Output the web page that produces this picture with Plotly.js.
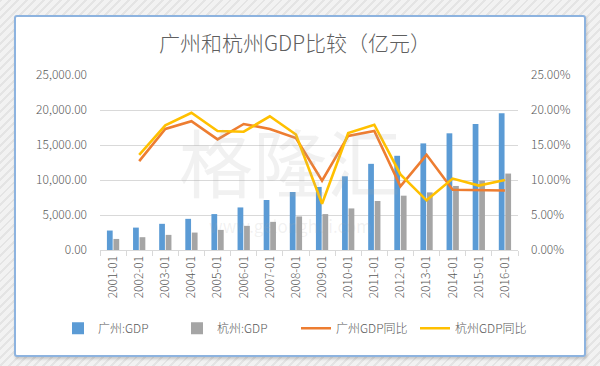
<!DOCTYPE html>
<html>
<head>
<meta charset="utf-8">
<script src="https://cdn.plot.ly/plotly-3.0.1.min.js"></script>
<style>
  html, body { margin: 0; padding: 0; width: 600px; height: 366px; overflow: hidden; }
  body { background: repeating-linear-gradient(135deg, #e4e4e4 0px, #e4e4e4 2px, #f2f2f2 2px, #f2f2f2 6px); position: relative; }
  #frame { position: absolute; left: 14px; top: 15px; width: 568px; height: 338px; background: #ffffff;
           border: 2px solid #8db3df; border-radius: 3px; box-shadow: 1px 2px 3px rgba(0,0,0,0.18); }
  #chart { position: absolute; left: 0; top: 0; width: 600px; height: 366px; }
</style>
</head>
<body>
<div id="frame"></div>
<div id="chart"></div>
<script>
const categories = ["2001-01","2002-01","2003-01","2004-01","2005-01","2006-01","2007-01","2008-01",
                    "2009-01","2010-01","2011-01","2012-01","2013-01","2014-01","2015-01","2016-01"];
const guangzhouGDP = [2780, 3200, 3740, 4450, 5130, 6080, 7140, 8290, 9010, 10530, 12310, 13460, 15230, 16670, 18000, 19540];
const hangzhouGDP  = [1580, 1830, 2160, 2490, 2870, 3450, 4020, 4790, 5130, 5940, 7000, 7760, 8230, 9150, 9910, 10920];
const guangzhouYoY = [null, 0.127, 0.173, 0.184, 0.158, 0.180, 0.173, 0.160, 0.099, 0.163, 0.170, 0.091, 0.136, 0.086, 0.085, 0.085];
const hangzhouYoY  = [null, 0.136, 0.178, 0.196, 0.170, 0.169, 0.191, 0.165, 0.066, 0.167, 0.179, 0.108, 0.071, 0.102, 0.092, 0.100];
const seriesNames = ["广州:GDP", "杭州:GDP", "广州GDP同比", "杭州GDP同比"];

const textColor = "#595959";
const fontFam = "'Noto Sans CJK SC', 'Noto Sans', sans-serif";

const data = [
  { type: "bar", name: seriesNames[0], x: categories, y: guangzhouGDP, marker: { color: "#5b9bd5" } },
  { type: "bar", name: seriesNames[1], x: categories, y: hangzhouGDP, marker: { color: "#a5a5a5" } },
  { type: "scatter", mode: "lines", name: seriesNames[2], x: categories, y: guangzhouYoY, yaxis: "y2",
    line: { color: "#ed7d31", width: 2.6 } },
  { type: "scatter", mode: "lines", name: seriesNames[3], x: categories, y: hangzhouYoY, yaxis: "y2",
    line: { color: "#ffc000", width: 2.6 } }
];

// plot area: x 100..518, y 75.5..250
const plotL = 100, plotW = 418, plotB = 250, plotH = 174.5;
const px2x = (px) => (px - plotL) / plotW;
const py2y = (py) => (plotB - py) / plotH;

const layout = {
  width: 600, height: 366,
  paper_bgcolor: "rgba(0,0,0,0)", plot_bgcolor: "rgba(0,0,0,0)",
  margin: { l: 100, r: 82, t: 75, b: 116 },
  font: { family: fontFam, color: textColor, size: 12 },
  title: { text: "广州和杭州GDP比较（亿元）", x: 295/600, xanchor: "center", xref: "container",
           y: 1 - 44/366, yanchor: "middle", yref: "container",
           font: { family: fontFam, size: 21, color: "#5f5f5f", weight: 300 } },
  barmode: "group", bargap: 0.5, bargroupgap: 0.12,
  showlegend: true,
  legend: { orientation: "h", x: px2x(58), xanchor: "left", xref: "paper",
            y: py2y(328), yanchor: "middle", yref: "paper",
            font: { size: 12, color: textColor, weight: 300 }, itemwidth: 30,
            entrywidth: 74, entrywidthmode: "pixels",
            traceorder: "normal", bgcolor: "rgba(0,0,0,0)" },
  xaxis: { type: "category", tickangle: -90, showgrid: false, showline: true, linecolor: "#d9d9d9", linewidth: 1,
           ticks: "outside", ticklen: 5, tickcolor: "#d9d9d9", tickson: "boundaries",
           tickfont: { size: 12, color: textColor, weight: 300 }, fixedrange: true },
  yaxis: { range: [0, 25000], dtick: 5000, tick0: 0, tickformat: ",.2f", showgrid: true, gridcolor: "#d9d9d9",
           gridwidth: 1, zeroline: false, showline: false, ticks: "", ticklabelstandoff: 12,
           tickfont: { size: 12, color: textColor, weight: 300 } },
  yaxis2: { range: [0, 0.25], dtick: 0.05, tick0: 0, tickformat: ".2%", overlaying: "y", side: "right",
            showgrid: false, zeroline: false, showline: false, ticks: "", ticklabelstandoff: 12,
            tickfont: { size: 12, color: textColor, weight: 300 } },
  annotations: [
    { text: "格隆汇", xref: "paper", yref: "paper", x: px2x(290), y: py2y(160), xanchor: "center", yanchor: "middle",
      showarrow: false, font: { size: 74, color: "rgba(170,170,170,0.16)", family: fontFam } },
    { text: "www.gelonghui.com", xref: "paper", yref: "paper", x: px2x(290), y: py2y(226), xanchor: "center", yanchor: "middle",
      showarrow: false, font: { size: 17, color: "rgba(170,170,170,0.16)", family: fontFam } }
  ]
};

Plotly.newPlot("chart", data, layout, { displayModeBar: false, staticPlot: true });
</script>
</body>
</html>
